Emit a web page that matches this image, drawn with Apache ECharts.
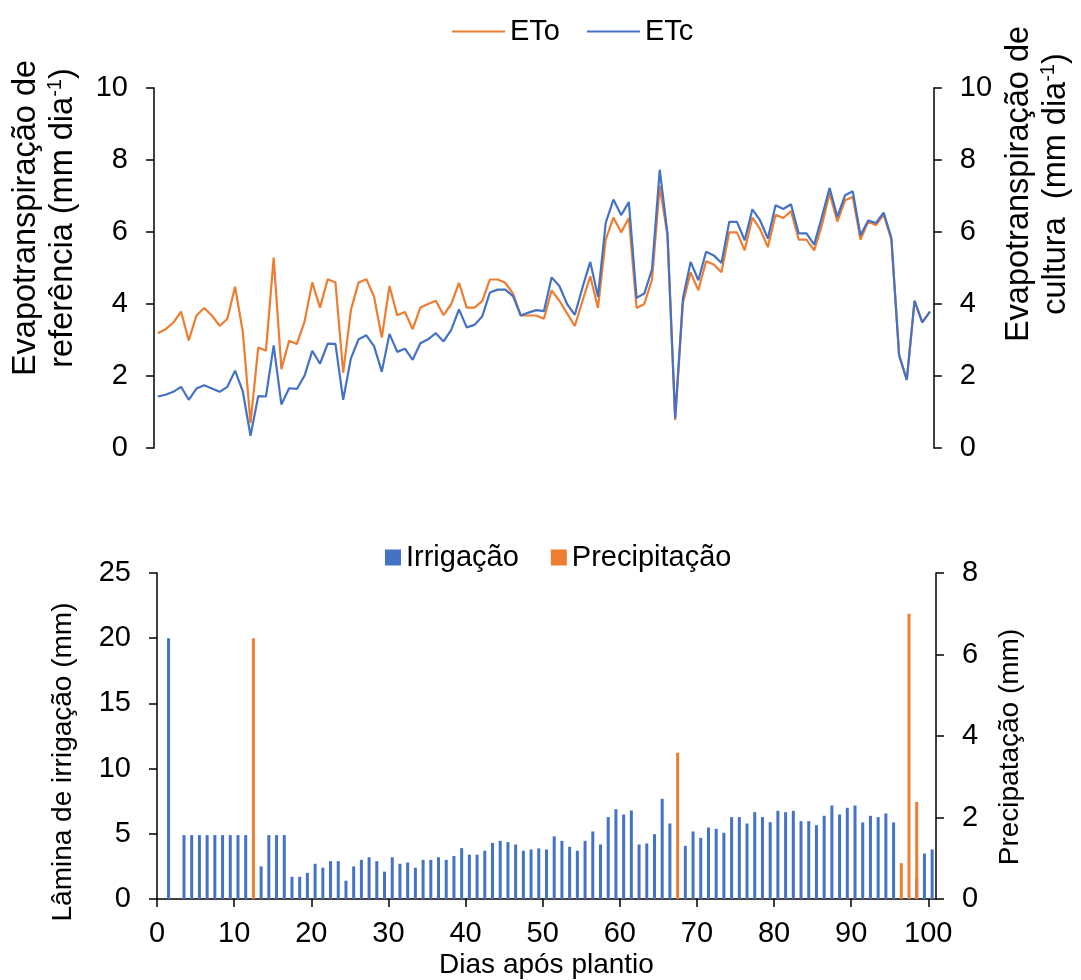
<!DOCTYPE html>
<html>
<head>
<meta charset="utf-8">
<script src="https://cdn.jsdelivr.net/npm/echarts@6/dist/echarts.min.js"></script>
<style>
  html, body { margin: 0; padding: 0; background: #fff; }
  #chart { width: 1081px; height: 980px; }
</style>
</head>
<body>
<div id="chart"></div>
<script>
// dias após plantio (0..100)
var days = [];
for (var d = 0; d <= 100; d++) days.push(d);

// evapotranspiração de referência (mm dia-1)
var eto = [
  3.19, 3.30, 3.48, 3.79, 2.99, 3.68, 3.89, 3.68, 3.39, 3.59,
  4.48, 3.23, 0.69, 2.79, 2.70, 5.29, 2.19, 2.98, 2.89, 3.51,
  4.60, 3.90, 4.69, 4.60, 2.09, 3.83, 4.60, 4.69, 4.20, 3.07,
  4.50, 3.69, 3.78, 3.30, 3.90, 4.00, 4.09, 3.69, 4.00, 4.59,
  3.90, 3.90, 4.08, 4.68, 4.68, 4.59, 4.29, 3.68, 3.68, 3.68,
  3.59, 4.38, 4.09, 3.74, 3.39, 4.09, 4.77, 3.89, 5.79, 6.40,
  5.99, 6.39, 3.89, 4.00, 4.68, 7.27, 5.91, 0.78, 4.03, 4.88,
  4.38, 5.19, 5.10, 4.88, 5.99, 5.99, 5.49, 6.40, 6.08, 5.58,
  6.48, 6.39, 6.58, 5.79, 5.79, 5.49, 6.19, 7.08, 6.29, 6.88,
  6.97, 5.79, 6.29, 6.19, 6.48, 5.79, 2.58, 1.89, 4.09, 3.49,
  3.79
];

// evapotranspiração de cultura (mm dia-1)
var etc = [
  1.43, 1.48, 1.56, 1.70, 1.34, 1.65, 1.74, 1.65, 1.56, 1.70,
  2.15, 1.57, 0.34, 1.44, 1.43, 2.85, 1.21, 1.66, 1.64, 2.01,
  2.70, 2.34, 2.90, 2.89, 1.34, 2.49, 3.02, 3.13, 2.83, 2.12,
  3.17, 2.67, 2.76, 2.45, 2.91, 3.02, 3.19, 2.96, 3.28, 3.85,
  3.35, 3.42, 3.65, 4.32, 4.40, 4.40, 4.22, 3.68, 3.76, 3.83,
  3.80, 4.74, 4.50, 4.00, 3.70, 4.46, 5.17, 4.20, 6.25, 6.90,
  6.47, 6.83, 4.17, 4.29, 4.96, 7.73, 5.96, 0.83, 4.15, 5.17,
  4.66, 5.45, 5.35, 5.14, 6.28, 6.28, 5.77, 6.63, 6.32, 5.82,
  6.74, 6.64, 6.77, 5.96, 5.96, 5.65, 6.42, 7.22, 6.42, 7.02,
  7.13, 5.91, 6.32, 6.25, 6.54, 5.84, 2.58, 1.89, 4.09, 3.49,
  3.79
];

// lâmina de irrigação (mm)
var irrigacao = [
  null, 20, null, 4.9, 4.9, 4.9, 4.9, 4.9, 4.9, 4.9,
  4.9, 4.9, null, 2.5, 4.9, 4.9, 4.9, 1.7, 1.7, 2.0,
  2.7, 2.4, 2.9, 2.9, 1.4, 2.5, 3.0, 3.2, 2.9, 2.1,
  3.2, 2.7, 2.8, 2.4, 3.0, 3.0, 3.2, 3.0, 3.3, 3.9,
  3.4, 3.4, 3.7, 4.3, 4.46, 4.36, 4.18, 3.7, 3.8, 3.88,
  3.8, 4.8, 4.46, 4.0, 3.7, 4.46, 5.18, 4.18, 6.28, 6.89,
  6.48, 6.79, 4.18, 4.26, 4.97, 7.68, 5.79, null, 4.08, 5.18,
  4.69, 5.48, 5.38, 5.08, 6.28, 6.28, 5.79, 6.66, 6.28, 5.89,
  6.76, 6.66, 6.76, 5.97, 5.97, 5.66, 6.38, 7.17, 6.48, 6.99,
  7.17, 5.87, 6.38, 6.28, 6.56, 5.87, null, null, 1.6, 3.49,
  3.8
];

// precipitação (mm)
var precipDias = [12, 67, 96, 97, 98];
var precipValores = [6.4, 3.59, 0.88, 7.0, 2.38];

var xTicks = [0, 10, 20, 30, 40, 50, 60, 70, 80, 90, 100];

var FONT = "'Liberation Sans', Arial, sans-serif";
var AZUL = "#4472C4";
var LARANJA = "#ED7D31";

var myChart = echarts.init(document.getElementById("chart"));

var axisLine = { show: true, lineStyle: { color: "#000", width: 1.5 } };
var axisTick = { show: true, inside: false, length: 8, lineStyle: { color: "#000", width: 1.5 } };
var tickLabel = { color: "#000", fontSize: 29, fontFamily: FONT, margin: 26 };
// títulos do gráfico de cima (com sobrescrito)
var richName = {
  a: { fontSize: 32.5, fontFamily: FONT, color: "#000", lineHeight: 37 },
  s: { fontSize: 20, fontFamily: FONT, color: "#000", lineHeight: 37, verticalAlign: "top" }
};

myChart.setOption({
  backgroundColor: "#fff",
  animation: false,
  legend: [
    {
      // legenda superior
      data: [
        { name: "ETo", icon: "rect" },
        { name: "ETc", icon: "rect" }
      ],
      left: 447,
      top: 12,
      itemWidth: 53,
      itemHeight: 2,
      itemGap: 27,
      textStyle: { color: "#000", fontSize: 29, fontFamily: FONT }
    },
    {
      // legenda inferior
      data: ["Irrigação", "Precipitação"],
      left: 380,
      top: 538,
      icon: "rect",
      itemWidth: 16,
      itemHeight: 16,
      itemGap: 32,
      textStyle: { color: "#000", fontSize: 29, fontFamily: FONT }
    }
  ],
  grid: [
    { left: 154, right: 145, top: 88, height: 360 },
    { left: 157, right: 145, top: 573, height: 327 }
  ],
  xAxis: [
    {
      gridIndex: 0,
      type: "category",
      data: days,
      boundaryGap: true,
      show: false
    },
    {
      gridIndex: 1,
      type: "value",
      min: 0,
      max: 101,
      axisLine: axisLine,
      axisTick: Object.assign({}, axisTick, { customValues: xTicks }),
      axisLabel: Object.assign({}, tickLabel, { margin: 20, customValues: xTicks }),
      splitLine: { show: false },
      name: "Dias após plantio",
      nameLocation: "middle",
      nameGap: 52,
      nameTextStyle: { color: "#000", fontSize: 28, fontFamily: FONT }
    }
  ],
  yAxis: [
    {
      gridIndex: 0,
      type: "value",
      position: "left",
      min: 0,
      max: 10,
      interval: 2,
      axisLine: axisLine,
      axisTick: axisTick,
      axisLabel: tickLabel,
      splitLine: { show: false },
      name: "{a|Evapotranspiração de}\n{a|referência (mm dia}{s|-1}{a|)}",
      nameLocation: "middle",
      nameRotate: 90,
      nameGap: 72,
      nameTextStyle: { rich: richName, padding: [0, 0, 0, 100] }
    },
    {
      gridIndex: 0,
      type: "value",
      position: "right",
      min: 0,
      max: 10,
      interval: 2,
      axisLine: axisLine,
      axisTick: axisTick,
      axisLabel: tickLabel,
      splitLine: { show: false },
      name: "{a|Evapotranspiração de}\n{a|cultura  (mm dia}{s|-1}{a|)}",
      nameLocation: "middle",
      nameRotate: 90,
      nameGap: 62,
      nameTextStyle: { rich: richName, padding: [0, 0, 0, 168] }
    },
    {
      gridIndex: 1,
      type: "value",
      position: "left",
      min: 0,
      max: 25,
      interval: 5,
      axisLine: axisLine,
      axisTick: axisTick,
      axisLabel: tickLabel,
      splitLine: { show: false },
      name: "Lâmina de irrigação (mm)",
      nameLocation: "middle",
      nameRotate: 90,
      nameGap: 80,
      nameTextStyle: { color: "#000", fontSize: 28, fontFamily: FONT, padding: [0, 52, 0, 0] }
    },
    {
      gridIndex: 1,
      type: "value",
      position: "right",
      min: 0,
      max: 8,
      interval: 2,
      axisLine: axisLine,
      axisTick: axisTick,
      axisLabel: tickLabel,
      splitLine: { show: false },
      name: "Precipatação (mm)",
      nameLocation: "middle",
      nameRotate: 90,
      nameGap: 60,
      nameTextStyle: { color: "#000", fontSize: 28, fontFamily: FONT, padding: [0, 22, 0, 0] }
    }
  ],
  series: [
    {
      name: "ETo",
      type: "line",
      xAxisIndex: 0,
      yAxisIndex: 0,
      data: eto,
      symbol: "none",
      color: LARANJA,
      lineStyle: { color: LARANJA, width: 2.2 }
    },
    {
      name: "ETc",
      type: "line",
      xAxisIndex: 0,
      yAxisIndex: 1,
      data: etc,
      symbol: "none",
      color: AZUL,
      lineStyle: { color: AZUL, width: 2.2 }
    },
    {
      name: "Irrigação",
      type: "bar",
      xAxisIndex: 1,
      yAxisIndex: 2,
      // barra centrada no meio de cada dia
      data: days.map(function (d, i) { return [d + 0.5, irrigacao[i]]; }),
      barWidth: 3,
      barGap: "-100%",
      itemStyle: { color: AZUL }
    },
    {
      name: "Precipitação",
      type: "bar",
      xAxisIndex: 1,
      yAxisIndex: 3,
      data: precipDias.map(function (d, i) { return [d + 0.5, precipValores[i]]; }),
      barWidth: 3,
      barGap: "-100%",
      itemStyle: { color: LARANJA }
    }
  ]
});
</script>
</body>
</html>
